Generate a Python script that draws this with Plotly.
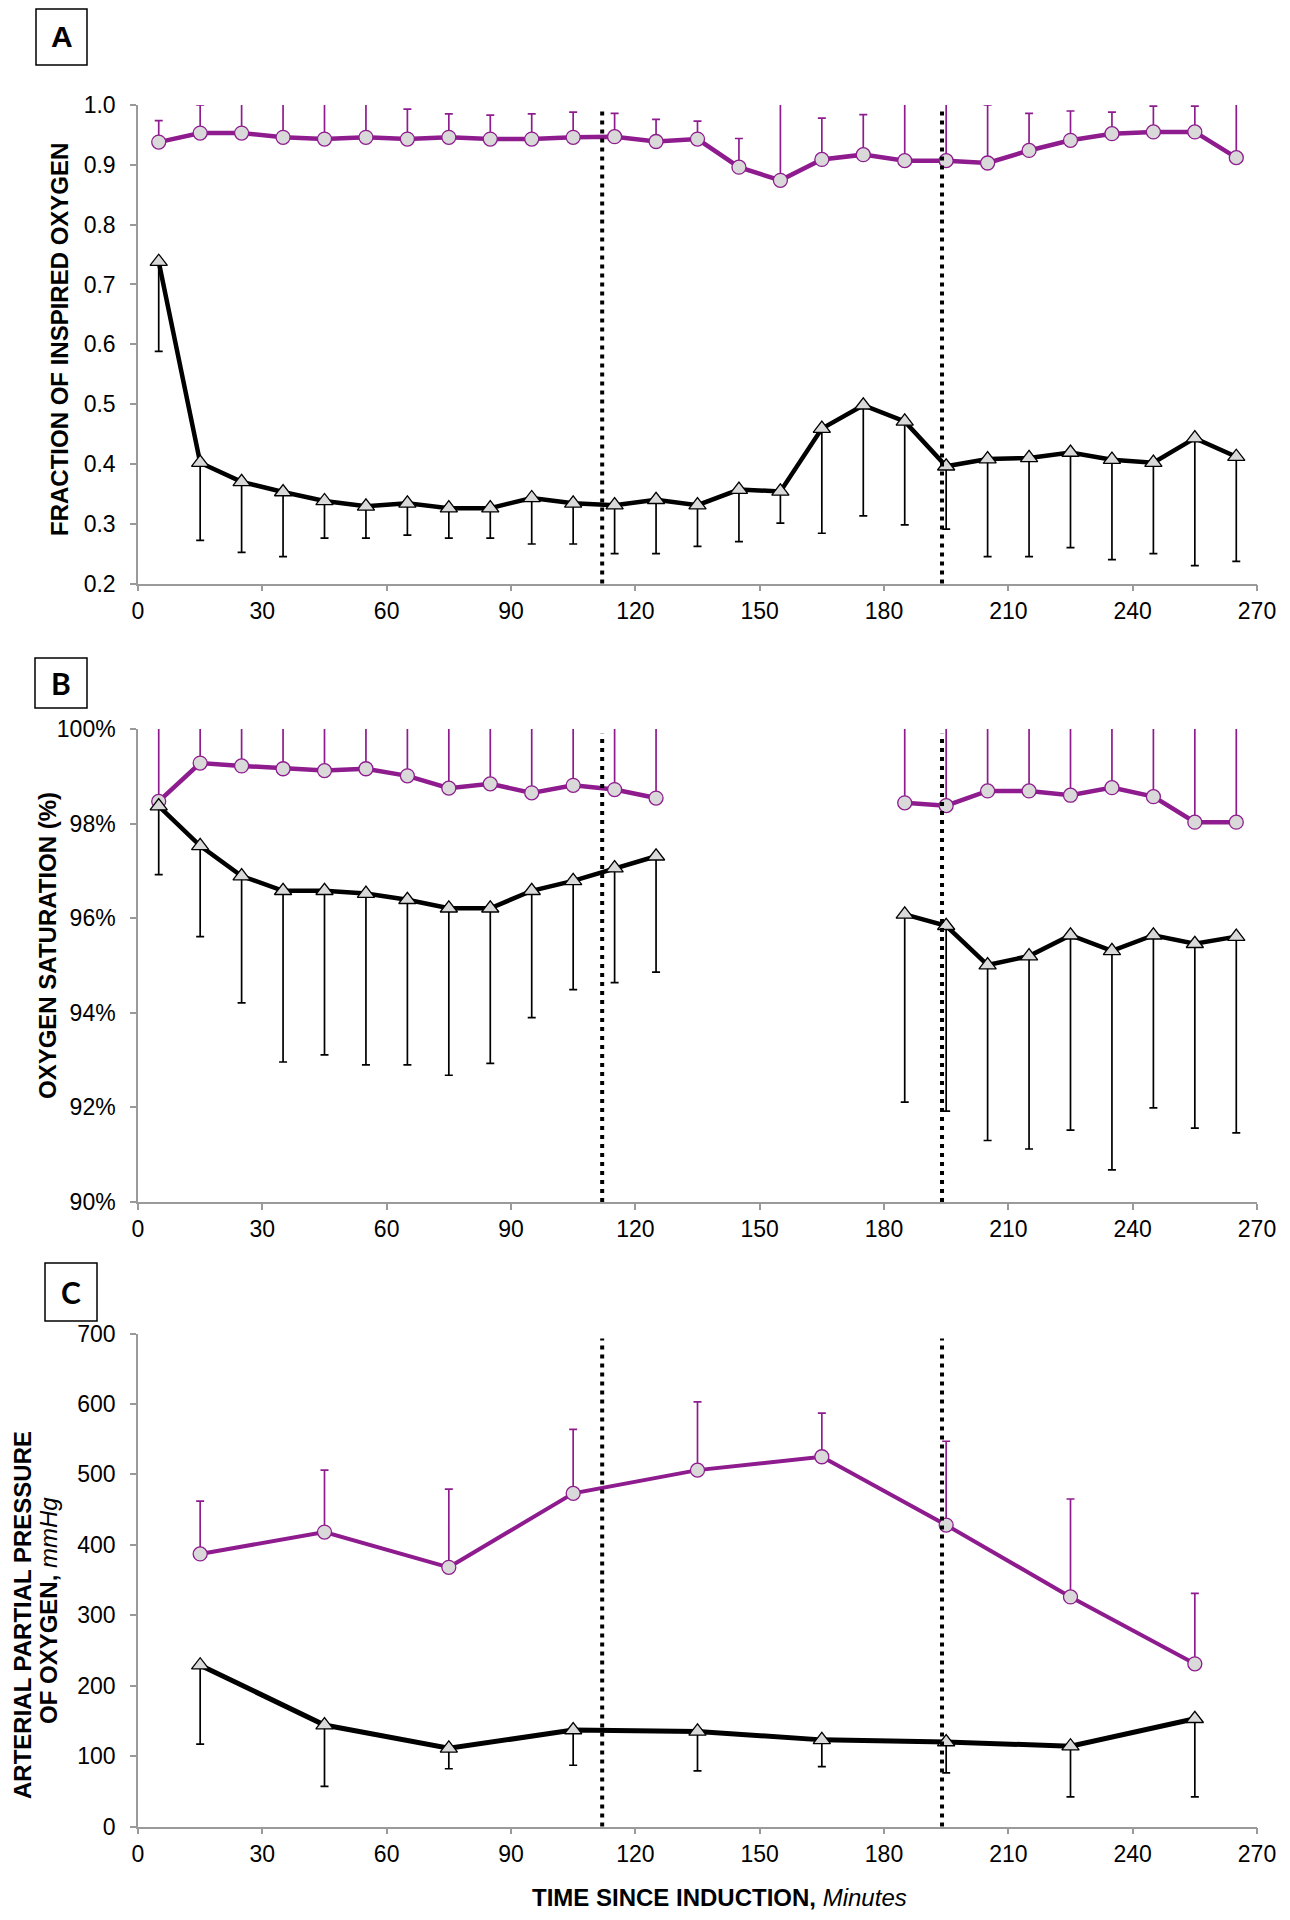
import plotly.graph_objects as go

# ---------------- DATA ----------------
# Panel A: fraction of inspired oxygen
a_time = [5, 15, 25, 35, 45, 55, 65, 75, 85, 95, 105, 115, 125, 135,
          145, 155, 165, 175, 185, 195, 205, 215, 225, 235, 245, 255, 265]
a_purple = [0.938, 0.953, 0.953, 0.946, 0.943, 0.946, 0.943, 0.946, 0.943, 0.943,
            0.946, 0.947, 0.939, 0.943, 0.896, 0.874, 0.909, 0.917, 0.907, 0.907,
            0.903, 0.924, 0.941, 0.952, 0.955, 0.955, 0.912]
a_purple_top = [0.974, 1.000, 1.030, 1.030, 1.030, 1.030, 0.993, 0.985, 0.983, 0.985,
                0.988, 0.986, 0.976, 0.973, 0.944, 1.030, 0.978, 0.984, 1.030, 1.030,
                1.000, 0.986, 0.990, 0.988, 0.998, 0.998, 1.030]
a_black = [0.738, 0.402, 0.370, 0.353, 0.338, 0.329, 0.334, 0.326, 0.326, 0.343,
           0.334, 0.331, 0.340, 0.331, 0.357, 0.354, 0.459, 0.498, 0.471, 0.396,
           0.408, 0.410, 0.419, 0.407, 0.402, 0.443, 0.412]
a_black_low = [0.588, 0.272, 0.252, 0.245, 0.276, 0.276, 0.281, 0.276, 0.276, 0.266,
               0.266, 0.250, 0.250, 0.262, 0.270, 0.301, 0.284, 0.313, 0.298, 0.291,
               0.245, 0.245, 0.260, 0.240, 0.250, 0.230, 0.237]

# Panel B: oxygen saturation (%)
b_time = [5, 15, 25, 35, 45, 55, 65, 75, 85, 95, 105, 115, 125, 135,
          145, 155, 165, 175, 185, 195, 205, 215, 225, 235, 245, 255, 265]
b_purple = [98.47, 99.28, 99.22, 99.16, 99.12, 99.16, 99.01, 98.75, 98.84, 98.65,
            98.81, 98.72, 98.54, None, None, None, None, None, 98.44, 98.38,
            98.69, 98.69, 98.60, 98.76, 98.57, 98.03, 98.03]
b_purple_top = [101.0, 101.0, 101.0, 101.0, 101.0, 101.0, 101.0, 101.0, 101.0, 101.0,
                101.0, 101.0, 101.0, None, None, None, None, None, 101.0, 101.0,
                101.0, 101.0, 101.0, 101.0, 101.0, 101.0, 101.0]
b_black = [98.37, 97.53, 96.89, 96.58, 96.58, 96.52, 96.39, 96.21, 96.21, 96.58,
           96.79, 97.06, 97.31, None, None, None, None, None, 96.08, 95.84,
           95.01, 95.20, 95.64, 95.31, 95.64, 95.46, 95.61]
b_black_low = [96.92, 95.61, 94.21, 92.96, 93.11, 92.90, 92.90, 92.68, 92.93, 93.90,
               94.49, 94.64, 94.86, None, None, None, None, None, 92.11, 91.92,
               91.30, 91.12, 91.52, 90.68, 91.99, 91.56, 91.46]

# Panel C: arterial partial pressure of oxygen (mmHg)
c_time = [15, 45, 75, 105, 135, 165, 195, 225, 255]
c_purple = [387, 418, 368, 473, 506, 525, 428, 326, 231]
c_purple_top = [462, 506, 479, 564, 603, 587, 547, 465, 331]
c_black = [229, 144, 111, 137, 135, 123, 120, 114, 153]
c_black_low = [117, 57, 82, 87, 79, 85, 76, 42, 42]

x_ticks = [0, 30, 60, 90, 120, 150, 180, 210, 240, 270]
b_ticks = [90, 92, 94, 96, 98, 100]
b_tick_text = ["90%", "92%", "94%", "96%", "98%", "100%"]
event_times = [112, 194]
panel_labels = ["A", "B", "C"]

# ---------------- STYLE ----------------
PURPLE = "#8E1C8E"
GRAY_FILL = "#D9D9D9"
AXIS_GRAY = "#9A9A9A"
PAGE_MARGIN = 8          # default body margin of the html page
W, H = 1290 - 2 * PAGE_MARGIN, 1920 - 2 * PAGE_MARGIN
TICK_FONT = dict(family="Liberation Sans, Arial, sans-serif", size=23, color="#000000")
TITLE_FONT = dict(family="Liberation Sans, Arial, sans-serif", size=24, color="#000000")


def fx(px):
    return (px - PAGE_MARGIN) / W


def fy(px):
    return 1 - (px - PAGE_MARGIN) / H


def up(vals, tops):
    return [None if v is None else t - v for v, t in zip(vals, tops)]


def down(vals, lows):
    return [None if v is None else v - l for v, l in zip(vals, lows)]


def zeros(vals):
    return [None if v is None else 0 for v in vals]


fig = go.Figure()

panels = [
    (a_time, a_purple, a_purple_top, a_black, a_black_low, "x", "y", 4.5, 4.5),
    (b_time, b_purple, b_purple_top, b_black, b_black_low, "x2", "y2", 4.5, 4.5),
    (c_time, c_purple, c_purple_top, c_black, c_black_low, "x3", "y3", 4, 5),
]

for (t, pv, ptop, bv, blow, xa, ya, pw, bw) in panels:
    fig.add_trace(go.Scatter(
        x=t, y=pv, xaxis=xa, yaxis=ya, mode="lines+markers",
        connectgaps=False,
        line=dict(color=PURPLE, width=pw),
        marker=dict(symbol="circle", size=14, color=GRAY_FILL,
                    line=dict(color=PURPLE, width=1.3)),
        error_y=dict(type="data", symmetric=False, array=up(pv, ptop),
                     arrayminus=zeros(pv), color=PURPLE, thickness=1.7, width=4),
        showlegend=False, hoverinfo="skip"))
    fig.add_trace(go.Scatter(
        x=t, y=bv, xaxis=xa, yaxis=ya, mode="lines+markers",
        connectgaps=False,
        line=dict(color="#000000", width=bw),
        marker=dict(symbol="triangle-up", size=15, color=GRAY_FILL,
                    line=dict(color="#000000", width=1.3)),
        error_y=dict(type="data", symmetric=False, array=zeros(bv),
                     arrayminus=down(bv, blow), color="#000000", thickness=1.7, width=4),
        showlegend=False, hoverinfo="skip"))

# domains from target screen pixels
xdom = [fx(138), fx(1257)]
ydoms = [
    [fy(583.5), fy(105)],
    [fy(1202), fy(729)],
    [fy(1826.5), fy(1333.5)],
]

axis_common = dict(showline=True, linecolor=AXIS_GRAY, linewidth=1.5,
                   ticks="outside", tickcolor=AXIS_GRAY, ticklen=6, tickwidth=1.5,
                   showgrid=False, zeroline=False, tickfont=TICK_FONT,
                   ticklabeloverflow="allow", automargin=False)

layout = dict(
    width=W, height=H, margin=dict(l=0, r=0, t=0, b=0, autoexpand=False),
    paper_bgcolor="white", plot_bgcolor="white", showlegend=False,
)
for i, (xa, ya) in enumerate([("xaxis", "yaxis"), ("xaxis2", "yaxis2"), ("xaxis3", "yaxis3")]):
    anchor_y = "y" if i == 0 else f"y{i+1}"
    anchor_x = "x" if i == 0 else f"x{i+1}"
    layout[xa] = dict(domain=xdom, anchor=anchor_y, range=[0, 270],
                      tickvals=x_ticks, ticklabelstandoff=0, **axis_common)
    layout[ya] = dict(domain=ydoms[i], anchor=anchor_x, ticklabelstandoff=10, **axis_common)

layout["yaxis"].update(range=[0.2, 1.0], tickvals=[0.2, 0.3, 0.4, 0.5, 0.6, 0.7, 0.8, 0.9, 1.0],
                       tickformat=".1f")
layout["yaxis2"].update(range=[90, 100], tickvals=b_ticks, ticktext=b_tick_text)
layout["yaxis3"].update(range=[0, 700], tickvals=[0, 100, 200, 300, 400, 500, 600, 700])

fig.update_layout(**layout)

# dotted event lines
for i in range(3):
    xr = "x" if i == 0 else f"x{i+1}"
    yr = "y domain" if i == 0 else f"y{i+1} domain"
    for et in event_times:
        fig.add_shape(type="line", xref=xr, yref=yr, x0=et, x1=et, y0=0, y1=0.99,
                      line=dict(color="#000000", width=4, dash="4px,5px"), layer="above")

# panel label boxes (target screen pixels)
boxes = [(36, 9, 87, 65, "Liberation Sans, Arial", 30),
         (35, 658, 87, 708, "Lato, Open Sans", 30),
         (45, 1263, 97, 1321, "Lato, Open Sans", 30)]
for lab, (x0, y0, x1, y1, fam, fs) in zip(panel_labels, boxes):
    fig.add_shape(type="rect", xref="paper", yref="paper",
                  x0=fx(x0), x1=fx(x1), y0=fy(y1), y1=fy(y0),
                  line=dict(color="#000000", width=1.5), fillcolor="white")
    fig.add_annotation(xref="paper", yref="paper", x=fx((x0 + x1) / 2), y=fy((y0 + y1) / 2),
                       text=f"<b>{lab}</b>", showarrow=False, xanchor="center", yanchor="middle",
                       font=dict(family=fam, size=fs, color="#000000"))


def ytitle(text, xpx, ypx):
    fig.add_annotation(xref="paper", yref="paper", x=fx(xpx), y=fy(ypx), text=text,
                       textangle=-90, showarrow=False, xanchor="center", yanchor="middle",
                       font=TITLE_FONT)


ytitle("<b>FRACTION OF INSPIRED OXYGEN</b>", 59, 340)
ytitle("<b>OXYGEN SATURATION (%)</b>", 47, 946)
ytitle("<b>ARTERIAL PARTIAL PRESSURE</b>", 22, 1615)
ytitle("<b>OF OXYGEN,</b> <i>mmHg</i>", 48, 1611)

fig.add_annotation(xref="paper", yref="paper", x=fx(719), y=0,
                   text="<b>TIME SINCE INDUCTION,</b> <i>Minutes</i>", showarrow=False,
                   xanchor="center", yanchor="bottom", yshift=-1, font=TITLE_FONT)

fig.write_html("out.html")
